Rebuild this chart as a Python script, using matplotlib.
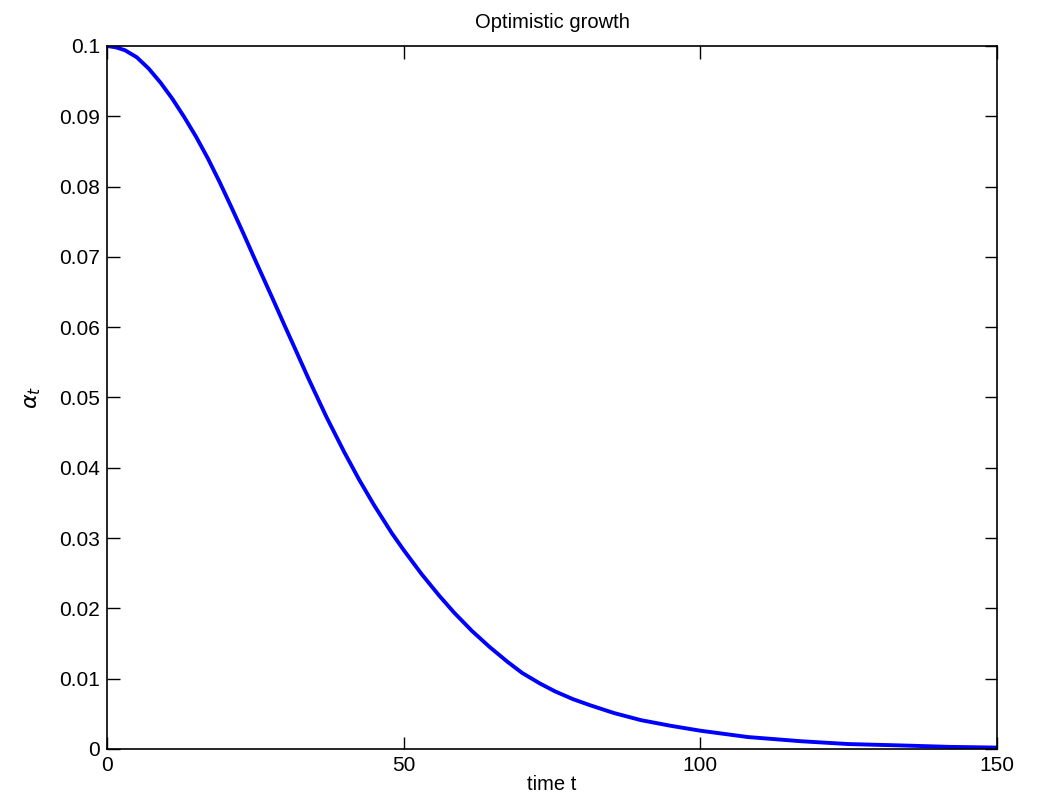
import matplotlib
matplotlib.use('Agg')
import matplotlib.pyplot as plt

plt.rcParams['font.family'] = ['Liberation Sans', 'DejaVu Sans']

# alpha_t over time
t = [0, 1.5, 3, 5, 7, 9, 11, 13, 15, 17, 19, 21, 23, 25, 28, 30, 31.5, 34,
     37, 40, 42.5, 45, 48, 50, 53, 56, 58.5, 61.5, 64.5, 67.5, 70, 73,
     75.5, 78.5, 81.5, 85.5, 90, 95, 100, 108, 117, 125, 134, 142, 150]
alpha = [0.1000, 0.0998, 0.0994, 0.0984, 0.0968, 0.0948, 0.0925, 0.0899,
         0.0871, 0.0840, 0.0806, 0.0770, 0.0733, 0.0695, 0.0639, 0.0601,
         0.0573, 0.0526, 0.0472, 0.0422, 0.0383, 0.0347, 0.0307, 0.0283,
         0.0249, 0.0218, 0.0194, 0.0168, 0.0145, 0.0124, 0.0108, 0.0093,
         0.0082, 0.0071, 0.0062, 0.0051, 0.0041, 0.0033, 0.0026, 0.0017,
         0.0011, 0.0007, 0.0005, 0.0003, 0.0002]

xticks = [0, 50, 100, 150]
yticks = [0, 0.01, 0.02, 0.03, 0.04, 0.05, 0.06, 0.07, 0.08, 0.09, 0.1]
yticklabels = ['0', '0.01', '0.02', '0.03', '0.04', '0.05', '0.06', '0.07', '0.08', '0.09', '0.1']

fig = plt.figure(figsize=(10.37, 7.99), dpi=100)
ax = fig.add_axes([0.1032, 0.0626, 0.8582, 0.8799])
ax.plot(t, alpha, color='#0000ff', linewidth=2.8, solid_joinstyle='round')

ax.set_xlim(0, 150)
ax.set_ylim(0, 0.1)
ax.set_xticks(xticks)
ax.set_xticklabels([str(v) for v in xticks])
ax.set_yticks(yticks)
ax.set_yticklabels(yticklabels)
ax.tick_params(direction='in', length=9, width=1, top=True, right=True,
               labelsize=15, pad=5)
for s in ax.spines.values():
    s.set_linewidth(1.2)

ax.set_title('Optimistic growth', fontsize=14.5, pad=13)
ax.set_xlabel('time t', fontsize=14.5, labelpad=0)
ax.set_ylabel(r'$\alpha_t$', fontsize=16, labelpad=12)

fig.savefig('out.png', dpi=100)
